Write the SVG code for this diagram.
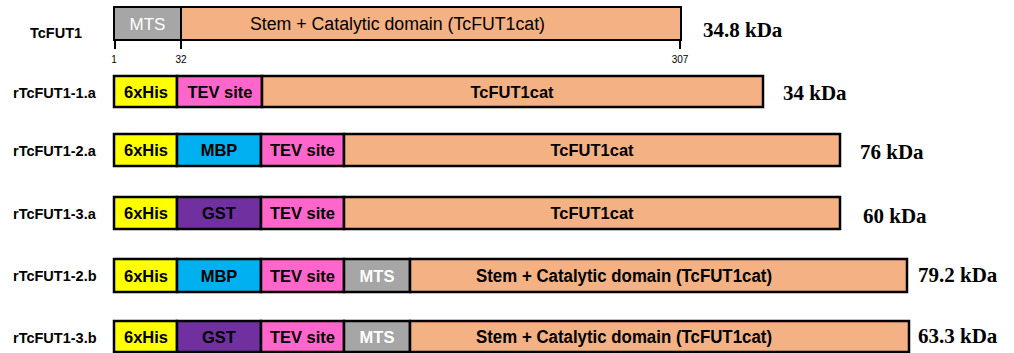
<svg xmlns="http://www.w3.org/2000/svg" width="1014" height="353" viewBox="0 0 1014 353">
<style>
.seg{stroke:#000;stroke-width:2.5}
.his{fill:#ffff00}.tev{fill:#ff66cc}.mbp{fill:#00b0f0}.gst{fill:#7030a0}.mts{fill:#a6a6a6}.cat{fill:#f4b183}
.t{font-family:"Liberation Sans",Arial,sans-serif;font-weight:bold;font-size:16.5px;fill:#000;text-anchor:middle}
.tw{font-family:"Liberation Sans",Arial,sans-serif;font-weight:bold;font-size:16.5px;fill:#fff;text-anchor:middle}
.lab{font-family:"Liberation Sans",Arial,sans-serif;font-weight:bold;font-size:14.5px;fill:#000}
.kda{font-family:"Liberation Serif","Times New Roman",serif;font-weight:bold;font-size:21px;fill:#000}
.num{font-family:"Liberation Sans",Arial,sans-serif;font-size:10px;fill:#000;text-anchor:middle}
.tick{stroke:#000;stroke-width:2}
</style>
<rect width="1014" height="353" fill="#fff"/>
<g id="TcFUT1">
<text class="lab" x="30" y="38">TcFUT1</text>
<rect class="seg mts" x="114" y="7" width="67" height="33" style="stroke-width:2"/>
<rect class="seg cat" x="181" y="7" width="500" height="33" style="stroke-width:2"/>
<text x="147.5" y="29.5" style="font-family:'Liberation Sans',Arial,sans-serif;font-size:17px;fill:#fff;text-anchor:middle">MTS</text>
<text x="397.5" y="29.5" textLength="295" lengthAdjust="spacingAndGlyphs" style="font-family:'Liberation Sans',Arial,sans-serif;font-size:18px;fill:#000;text-anchor:middle">Stem + Catalytic domain (TcFUT1cat)</text>
<line class="tick" x1="115" y1="40" x2="115" y2="49"/>
<line class="tick" x1="181" y1="40" x2="181" y2="49"/>
<line class="tick" x1="680" y1="40" x2="680" y2="49"/>
<text class="num" x="114" y="63">1</text>
<text class="num" x="181" y="63">32</text>
<text class="num" x="680" y="63">307</text>
<text class="kda" x="703" y="37">34.8 kDa</text>
</g>
<g id="rTcFUT1-1a">
<text class="lab" x="13" y="98">rTcFUT1-1.a</text>
<rect class="seg his" x="114" y="76" width="63" height="31"/>
<rect class="seg tev" x="177" y="76" width="85" height="31"/>
<rect class="seg cat" x="262" y="76" width="501" height="31"/>
<text class="t" x="146" y="97.5">6xHis</text>
<text class="t" x="220" y="97.5">TEV site</text>
<text class="t" x="512" y="97.5">TcFUT1cat</text>
<text class="kda" x="783" y="100">34 kDa</text>
</g>
<g id="rTcFUT1-2a">
<text class="lab" x="13" y="156">rTcFUT1-2.a</text>
<rect class="seg his" x="114" y="134" width="63" height="32"/>
<rect class="seg mbp" x="177" y="134" width="84" height="32"/>
<rect class="seg tev" x="261" y="134" width="83" height="32"/>
<rect class="seg cat" x="344" y="134" width="496" height="32"/>
<text class="t" x="146" y="156">6xHis</text>
<text class="t" x="219" y="156">MBP</text>
<text class="t" x="302.5" y="156">TEV site</text>
<text class="t" x="592" y="156">TcFUT1cat</text>
<text class="kda" x="860" y="159">76 kDa</text>
</g>
<g id="rTcFUT1-3a">
<text class="lab" x="13" y="219">rTcFUT1-3.a</text>
<rect class="seg his" x="114" y="197" width="63" height="32"/>
<rect class="seg gst" x="177" y="197" width="84" height="32"/>
<rect class="seg tev" x="261" y="197" width="83" height="32"/>
<rect class="seg cat" x="344" y="197" width="496" height="32"/>
<text class="t" x="146" y="219">6xHis</text>
<text class="t" x="219" y="219">GST</text>
<text class="t" x="302.5" y="219">TEV site</text>
<text class="t" x="592" y="219">TcFUT1cat</text>
<text class="kda" x="863" y="223">60 kDa</text>
</g>
<g id="rTcFUT1-2b">
<text class="lab" x="13" y="281">rTcFUT1-2.b</text>
<rect class="seg his" x="114" y="259" width="63" height="33"/>
<rect class="seg mbp" x="177" y="259" width="84" height="33"/>
<rect class="seg tev" x="261" y="259" width="83" height="33"/>
<rect class="seg mts" x="344" y="259" width="66" height="33"/>
<rect class="seg cat" x="410" y="259" width="497" height="33"/>
<text class="t" x="146" y="281.5">6xHis</text>
<text class="t" x="219" y="281.5">MBP</text>
<text class="t" x="302.5" y="281.5">TEV site</text>
<text class="tw" x="377" y="281.5">MTS</text>
<text class="t" x="624" y="281.5" textLength="296" lengthAdjust="spacingAndGlyphs" style="font-size:18px">Stem + Catalytic domain (TcFUT1cat)</text>
<text class="kda" x="918" y="282">79.2 kDa</text>
</g>
<g id="rTcFUT1-3b">
<text class="lab" x="13" y="343">rTcFUT1-3.b</text>
<rect class="seg his" x="114" y="321" width="63" height="31"/>
<rect class="seg gst" x="177" y="321" width="84" height="31"/>
<rect class="seg tev" x="261" y="321" width="83" height="31"/>
<rect class="seg mts" x="344" y="321" width="66" height="31"/>
<rect class="seg cat" x="410" y="321" width="499" height="31"/>
<text class="t" x="146" y="342.5">6xHis</text>
<text class="t" x="219" y="342.5">GST</text>
<text class="t" x="302.5" y="342.5">TEV site</text>
<text class="tw" x="377" y="342.5">MTS</text>
<text class="t" x="624" y="342.5" textLength="296" lengthAdjust="spacingAndGlyphs" style="font-size:18px">Stem + Catalytic domain (TcFUT1cat)</text>
<text class="kda" x="918" y="343">63.3 kDa</text>
</g>
<g id="connectors"></g>
</svg>
